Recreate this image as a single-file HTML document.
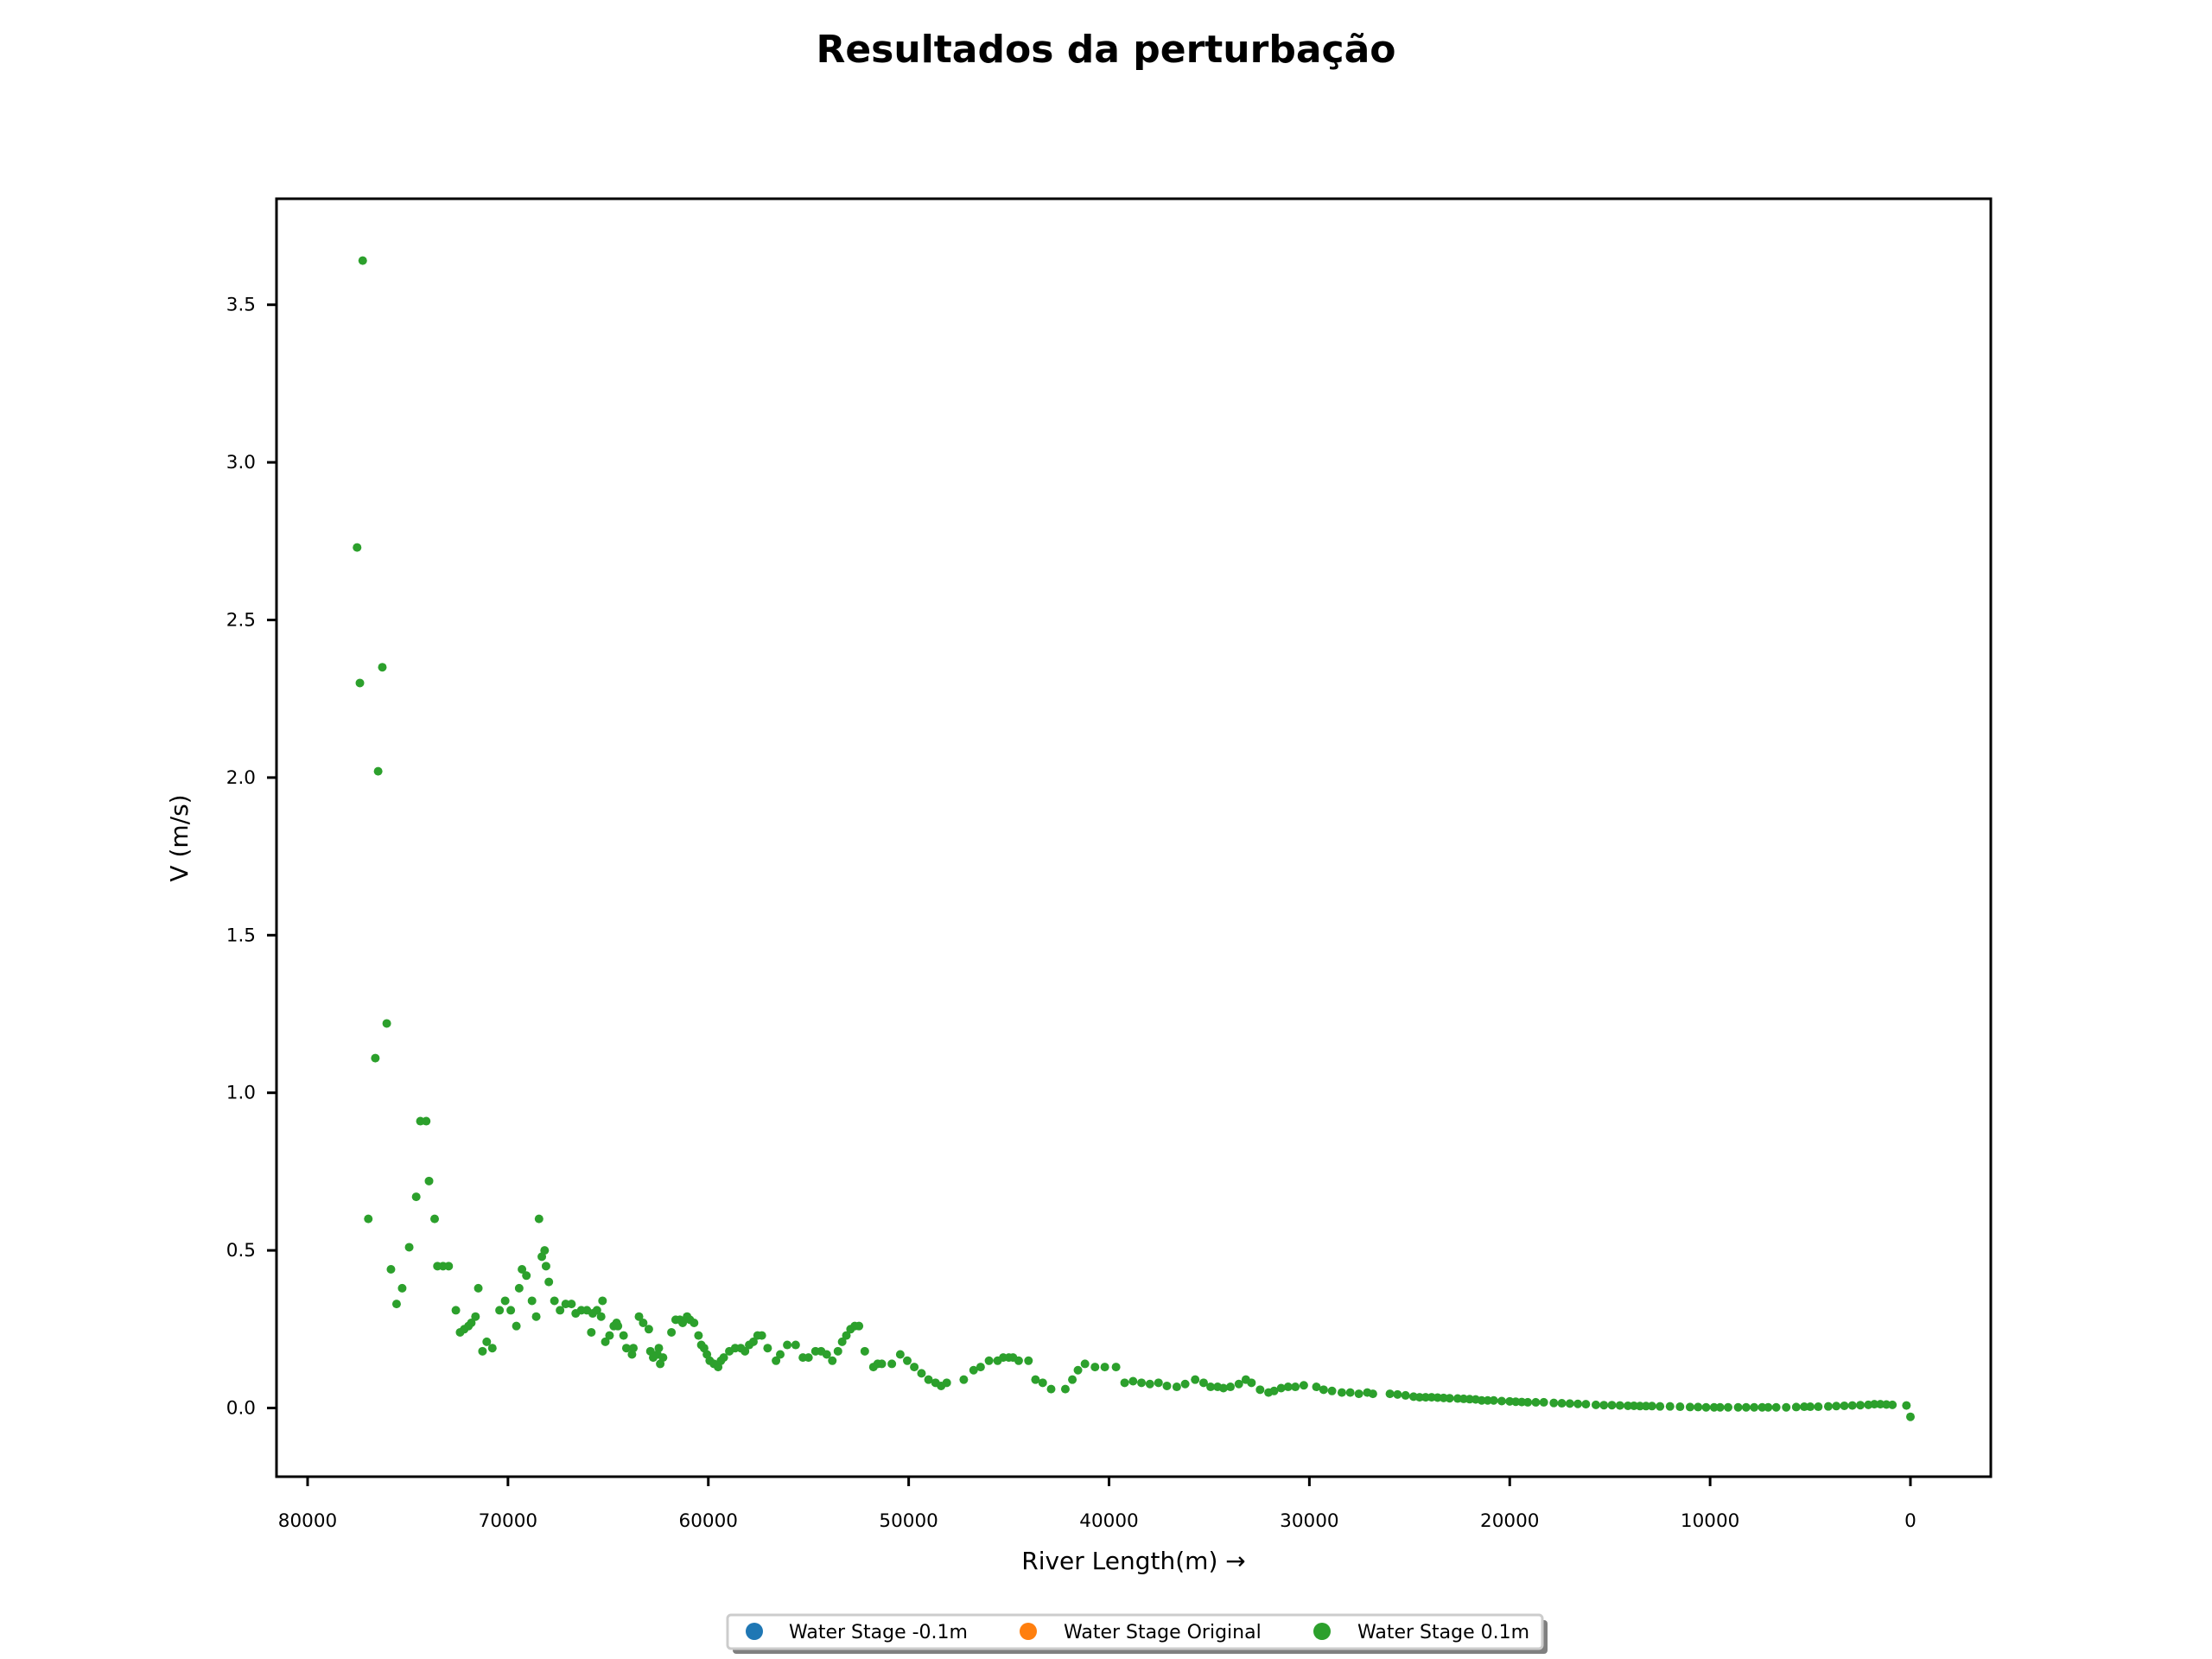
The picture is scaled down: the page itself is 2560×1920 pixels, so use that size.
<!DOCTYPE html>
<html><head><meta charset="utf-8"><style>
html,body{margin:0;padding:0;background:#fff;}
svg{display:block;font-family:"DejaVu Sans","Liberation Sans",sans-serif;}
</style></head><body>
<svg id="chart" width="2560" height="1920" viewBox="0 0 2560 1920">
<text x="1280" y="72" text-anchor="middle" font-size="44" font-weight="bold">Resultados da perturbação</text>
<g id="plot"></g>
<rect x="320" y="230" width="1984" height="1479" fill="none" stroke="#000" stroke-width="3"/>
<g id="xticks"></g>
<g id="yticks"></g>
<text x="1312" y="1816" text-anchor="middle" font-size="28">River Length(m) →</text>
<text transform="translate(217,970) rotate(-90)" text-anchor="middle" font-size="28">V (m/s)</text>
<g>
<rect x="848" y="1875" width="943" height="39" rx="4" fill="#808080"/>
<rect x="842" y="1869" width="943" height="39" rx="4" fill="#fff" stroke="#ccc" stroke-width="3"/>
<circle cx="873" cy="1888" r="10" fill="#1f77b4"/>
<text x="913" y="1896" font-size="22">Water Stage -0.1m</text>
<circle cx="1190" cy="1888" r="10" fill="#ff7f0e"/>
<text x="1231" y="1896" font-size="22">Water Stage Original</text>
<circle cx="1530" cy="1888" r="10" fill="#2ca02c"/>
<text x="1571" y="1896" font-size="22">Water Stage 0.1m</text>
</g>
</svg>
<script>
const xTicks = [80000,70000,60000,50000,40000,30000,20000,10000,0];
const yTicks = [0.0,0.5,1.0,1.5,2.0,2.5,3.0,3.5];
const yTickLabels = ["0.0","0.5","1.0","1.5","2.0","2.5","3.0","3.5"];
const distances = [77250,77530,77390,76270,76480,76050,76620,76970,75840,75560,75280,74930,74580,74370,74080,73940,73660,73520,73240,72960,72600,72390,72180,71970,71830,71620,71480,71270,71060,70780,70420,70140,69860,69580,69440,69300,69080,68800,68590,68450,68310,68170,68100,67960,67680,67400,67120,66830,66620,66340,66060,65770,65560,65350,65840,65280,65140,64930,64720,64580,64510,64230,64090,63810,63740,63460,63250,62970,62890,62750,62540,62470,62400,62260,61840,61630,61420,61280,61060,60920,60710,60490,60350,60210,60070,59930,59720,59510,59370,59230,58950,58660,58380,58170,57960,57750,57540,57330,57040,56620,56410,56060,55640,55280,55000,54650,54370,54090,53810,53530,53320,53110,52900,52690,52480,52190,51760,51550,51340,50840,50420,50070,49720,49360,49010,48660,48380,48100,47250,46760,46410,45990,45560,45280,45000,44790,44510,44020,43670,43310,42890,42180,41830,41550,41200,40700,40210,39650,39220,38800,38380,37960,37530,37110,36620,36200,35700,35280,34930,34580,34290,33940,33520,33170,32890,32460,32040,31760,31410,31060,30700,30280,29650,29290,28870,28380,27960,27530,27110,26830,25980,25600,25200,24800,24500,24200,23900,23600,23300,23000,22600,22300,22000,21700,21400,21100,20800,20400,20000,19700,19400,19100,18700,18300,17800,17400,17000,16600,16200,15700,15300,14900,14500,14100,13800,13500,13200,12900,12500,12000,11500,11000,10600,10200,9800,9500,9100,8600,8200,7800,7400,7100,6700,6200,5700,5300,5000,4600,4100,3700,3300,2900,2500,2100,1800,1500,1200,900,200,0];
const velocities = [3.64,2.73,2.30,2.35,2.02,1.22,1.11,0.60,0.44,0.33,0.38,0.51,0.67,0.91,0.91,0.72,0.60,0.45,0.45,0.45,0.31,0.24,0.25,0.26,0.27,0.29,0.38,0.18,0.21,0.19,0.31,0.34,0.31,0.26,0.38,0.44,0.42,0.34,0.29,0.60,0.48,0.50,0.45,0.40,0.34,0.31,0.33,0.33,0.30,0.31,0.31,0.30,0.31,0.29,0.24,0.34,0.21,0.23,0.26,0.27,0.26,0.23,0.19,0.17,0.19,0.29,0.27,0.25,0.18,0.16,0.17,0.19,0.14,0.16,0.24,0.28,0.28,0.27,0.29,0.28,0.27,0.23,0.20,0.19,0.17,0.15,0.14,0.13,0.15,0.16,0.18,0.19,0.19,0.18,0.20,0.21,0.23,0.23,0.19,0.15,0.17,0.20,0.20,0.16,0.16,0.18,0.18,0.17,0.15,0.18,0.21,0.23,0.25,0.26,0.26,0.18,0.13,0.14,0.14,0.14,0.17,0.15,0.13,0.11,0.09,0.08,0.07,0.08,0.09,0.12,0.13,0.15,0.15,0.16,0.16,0.16,0.15,0.15,0.09,0.08,0.06,0.06,0.09,0.12,0.14,0.13,0.13,0.13,0.08,0.085,0.08,0.076,0.08,0.07,0.067,0.076,0.09,0.08,0.067,0.067,0.063,0.067,0.076,0.09,0.08,0.058,0.049,0.054,0.063,0.067,0.067,0.072,0.067,0.058,0.054,0.049,0.049,0.045,0.049,0.045,0.045,0.043,0.040,0.036,0.034,0.034,0.034,0.033,0.032,0.031,0.030,0.029,0.028,0.027,0.024,0.024,0.024,0.022,0.021,0.020,0.019,0.018,0.018,0.018,0.016,0.015,0.014,0.013,0.012,0.010,0.009,0.009,0.008,0.007,0.007,0.006,0.006,0.006,0.005,0.005,0.004,0.003,0.003,0.002,0.002,0.002,0.002,0.002,0.002,0.002,0.002,0.002,0.002,0.002,0.003,0.004,0.004,0.004,0.005,0.006,0.007,0.008,0.009,0.010,0.012,0.012,0.011,0.010,0.008,-0.028];

const NS = "http://www.w3.org/2000/svg";
function xScale(v){ return 2211 + (356 - 2211) * v / 80000; }
function yScale(v){ return 1629.5 - v * (1629.5 - 352.7) / 3.5; }

const xg = document.getElementById('xticks');
xTicks.forEach(t => {
  const l = document.createElementNS(NS,'line');
  
  
  l.setAttribute('x1', xScale(t)); l.setAttribute('x2', xScale(t));
  l.setAttribute('y1', 1709); l.setAttribute('y2', 1720);
  l.setAttribute('stroke', '#000'); l.setAttribute('stroke-width', 3);
  xg.appendChild(l);
  const tx = document.createElementNS(NS,'text');
  
  
  tx.setAttribute('x', xScale(t)); tx.setAttribute('y', 1767);
  tx.setAttribute('text-anchor', 'middle'); tx.setAttribute('font-size', 21.5);
  tx.textContent = String(t);
  xg.appendChild(tx);
});
const yg = document.getElementById('yticks');
yTicks.forEach((t,i) => {
  const l = document.createElementNS(NS,'line');
  
  
  l.setAttribute('x1', 309); l.setAttribute('x2', 320);
  l.setAttribute('y1', yScale(t)); l.setAttribute('y2', yScale(t));
  l.setAttribute('stroke', '#000'); l.setAttribute('stroke-width', 3);
  yg.appendChild(l);
  const tx = document.createElementNS(NS,'text');
  
  
  tx.setAttribute('x', 296); tx.setAttribute('y', yScale(t) + 7);
  tx.setAttribute('text-anchor', 'end'); tx.setAttribute('font-size', 21.5);
  tx.textContent = yTickLabels[i];
  yg.appendChild(tx);
});
const pg = document.getElementById('plot');
distances.forEach((d,i) => {
  const c = document.createElementNS(NS,'circle');
  
  
  c.setAttribute('cx', xScale(d)); c.setAttribute('cy', yScale(velocities[i]));
  c.setAttribute('r', 5); c.setAttribute('fill', '#2ca02c');
  pg.appendChild(c);
});
</script>
</body></html>
